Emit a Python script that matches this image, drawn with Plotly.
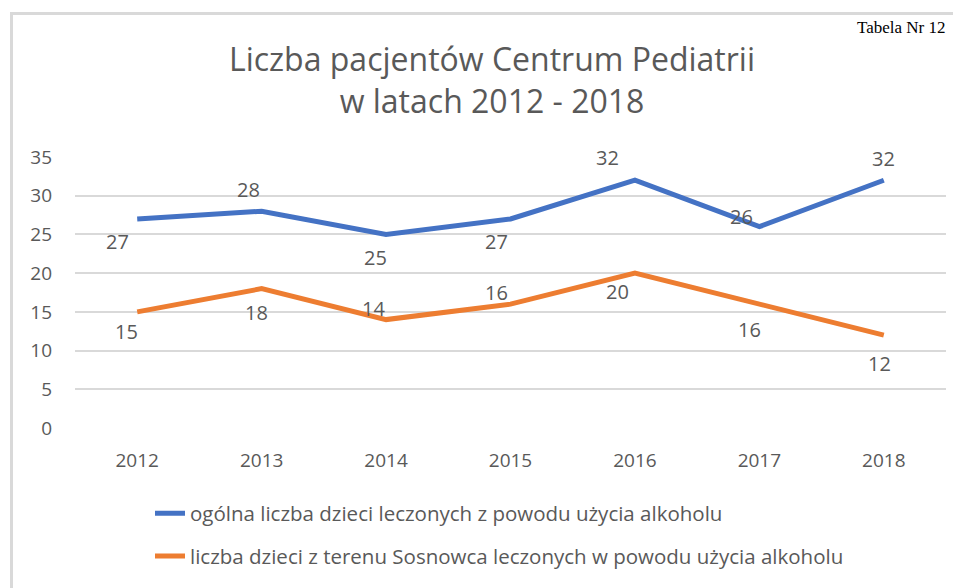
import plotly.graph_objects as go

years = [2012, 2013, 2014, 2015, 2016, 2017, 2018]
ogolna = [27, 28, 25, 27, 32, 26, 32]
sosnowiec = [15, 18, 14, 16, 20, 16, 12]
name_ogolna = "ogólna liczba dzieci leczonych z powodu użycia alkoholu"
name_sosn = "liczba dzieci z terenu Sosnowca leczonych w powodu użycia alkoholu"
title_text = "Liczba pacjentów Centrum Pediatrii<br>w latach 2012 - 2018"
corner_text = "Tabela Nr 12"
y_ticks = [0, 5, 10, 15, 20, 25, 30, 35]

# label offsets (pixels) for data labels
blue_shift = [(-20, -23), (-13, 22), (-11, -23), (-14, -23), (-27, 23), (-18, 10), (0, 22)]
orange_shift = [(-11, -20), (-5, -24), (-13, 11), (-14, 12), (-17, -18), (-10, -25), (-4, -28)]

OFF = 8  # browser body margin
W, H = 961 - OFF, 588 - OFF
L = 75 - OFF
T = 157 - OFF
R = W - (946 - OFF)
B = H - (430 - OFF)
pw = W - L - R
ph = H - T - B

def px(x):
    return (x - OFF - L) / pw

def py(y):
    return (H - B - (y - OFF)) / ph

font = "Open Sans, Liberation Sans, sans-serif"
gray = "#595959"

fig = go.Figure()
fig.add_trace(go.Scatter(x=years, y=ogolna, mode="lines", name=name_ogolna,
                         line=dict(color="#4472C4", width=5), legendgroup="a"))
fig.add_trace(go.Scatter(x=years, y=sosnowiec, mode="lines", name=name_sosn,
                         line=dict(color="#ED7D31", width=5), legendgroup="b"))

annotations = []
for series, shifts in ((ogolna, blue_shift), (sosnowiec, orange_shift)):
    for yr, v, (dx, dy) in zip(years, series, shifts):
        annotations.append(dict(x=yr, y=v, xref="x", yref="y", text=str(v), showarrow=False,
                                xshift=dx, yshift=dy, font=dict(size=20, color=gray, family=font)))

annotations.append(dict(x=px(948), y=py(15), xref="paper", yref="paper", text=corner_text,
                        showarrow=False, xanchor="right", yanchor="top",
                        font=dict(size=17, color="#000000", family="Liberation Serif, serif")))

shapes = [
    dict(type="line", xref="paper", yref="paper", x0=px(11.5), x1=px(11.5), y0=py(12), y1=py(600),
         line=dict(color="#d9d9d9", width=3)),
    dict(type="line", xref="paper", yref="paper", x0=px(10), x1=px(970), y0=py(12.5), y1=py(12.5),
         line=dict(color="#d9d9d9", width=3)),
]

fig.update_layout(
    width=W, height=H,
    margin=dict(l=L, r=R, t=T, b=B),
    paper_bgcolor="white", plot_bgcolor="white",
    title=dict(text=title_text, xref="container", yref="container",
               x=(492 - OFF) / W, xanchor="center", y=1 - (71 - OFF) / H, yanchor="middle",
               font=dict(size=32, color=gray, family=font)),
    xaxis=dict(range=[2011.5, 2018.5], tickvals=years, showgrid=False, showline=False, ticks="",
               zeroline=False, tickfont=dict(size=19, color=gray, family=font), ticklabelstandoff=19),
    yaxis=dict(range=[0, 35], tickvals=y_ticks, showgrid=True, gridcolor="#d9d9d9", gridwidth=1.5,
               zeroline=False, showline=False, ticks="",
               tickfont=dict(size=19, color=gray, family=font), ticklabelstandoff=22),
    legend=dict(x=px(150), y=py(496), xanchor="left", yanchor="top", orientation="v",
                font=dict(size=20.5, color=gray, family=font), tracegroupgap=13,
                bgcolor="rgba(0,0,0,0)", itemwidth=30),
    showlegend=True,
    annotations=annotations,
    shapes=shapes,
)

fig.write_html("out.html")
